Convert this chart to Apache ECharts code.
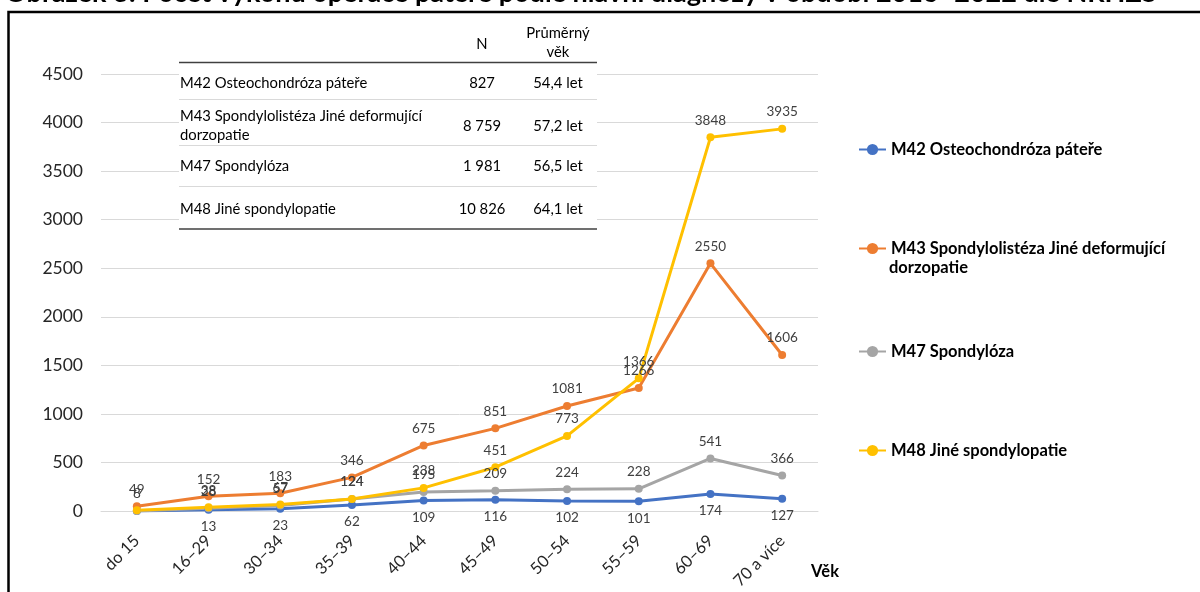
<!DOCTYPE html>
<html>
<head>
<meta charset="utf-8">
<script src="https://cdn.jsdelivr.net/npm/echarts@6/dist/echarts.min.js"></script>
<style>
  html, body { margin: 0; padding: 0; background: #fff; }
  #chart { width: 1200px; height: 592px; }
</style>
</head>
<body>
<div id="chart"></div>
<script>
// Age groups on the x axis
const ageGroups = ['do 15', '16–29', '30–34', '35–39', '40–44', '45–49', '50–54', '55–59', '60–69', '70 a více'];

// Series names (diagnosis groups)
const seriesNames = [
  'M42 Osteochondróza páteře',
  'M43 Spondylolistéza Jiné deformující dorzopatie',
  'M47 Spondylóza',
  'M48 Jiné spondylopatie'
];

// Number of spine surgeries per age group
const m42Values = [0, 13, 23, 62, 109, 116, 102, 101, 174, 127];
const m43Values = [49, 152, 183, 346, 675, 851, 1081, 1266, 2550, 1606];
const m47Values = [0, 28, 57, 124, 195, 209, 224, 228, 541, 366];
const m48Values = [8, 38, 67, 124, 238, 451, 773, 1366, 3848, 3935];

// Summary table: totals and mean age
const tableNames = [
  ['M42 Osteochondróza páteře'],
  ['M43 Spondylolistéza Jiné deformující', 'dorzopatie'],
  ['M47 Spondylóza'],
  ['M48 Jiné spondylopatie']
];
const tableN = ['827', '8 759', '1 981', '10 826'];
const tableAge = ['54,4 let', '57,2 let', '56,5 let', '64,1 let'];
const tableHeader = ['N', 'Průměrný', 'věk'];

// Legend wording (the long M43 name wraps onto a second line)
const legendLines = [
  ['M42 Osteochondróza páteře'],
  ['M43 Spondylolistéza Jiné deformující', 'dorzopatie'],
  ['M47 Spondylóza'],
  ['M48 Jiné spondylopatie']
];

const titleText = 'Obrázek 3: Počet výkonů operace páteře podle hlavní diagnózy v období 2016–2022 dle NRHZS';
const axisNameX = 'Věk';

const colors = ['#4472C4', '#ED7D31', '#A5A5A5', '#FFC000'];
const allValues = [m42Values, m43Values, m47Values, m48Values];
const labelPos = ['bottom', 'top', 'top', 'top'];

const FONT = 'Lato, "Open Sans", sans-serif';
const TXT = '#404040';

const chart = echarts.init(document.getElementById('chart'), null, { renderer: 'canvas' });

// Table layout
const tX0 = 179, tX1 = 597, colN = 482, colAge = 558, nameX = 180;
const rowY = [83, 126, 166.5, 209];
const sepY = [99.5, 145.5, 186.5];
const graphic = [];

// frame around the figure
graphic.push({
  type: 'rect', z: 10, silent: true,
  shape: { x: 8.5, y: 12, width: 1400, height: 800 },
  style: { fill: null, stroke: '#000', lineWidth: 2.5 }
});
// figure caption, partly cut by the top edge
graphic.push({
  type: 'text', z: 10, silent: true,
  style: { text: titleText, x: 5, y: 7, font: 'bold 27px ' + FONT, fill: '#000', textAlign: 'left', textVerticalAlign: 'bottom' }
});
// white panel behind the table
graphic.push({
  type: 'rect', z: 5, silent: true,
  shape: { x: tX0, y: 20, width: tX1 - tX0, height: 212 },
  style: { fill: '#fff' }
});
graphic.push({ type: 'line', z: 6, silent: true, shape: { x1: tX0, y1: 62.5, x2: tX1, y2: 62.5 }, style: { stroke: '#404040', lineWidth: 1.5 } });
graphic.push({ type: 'line', z: 6, silent: true, shape: { x1: tX0, y1: 229, x2: tX1, y2: 229 }, style: { stroke: '#404040', lineWidth: 1.5 } });
sepY.forEach(y => graphic.push({ type: 'line', z: 6, silent: true, shape: { x1: tX0, y1: y, x2: tX1, y2: y }, style: { stroke: '#d9d9d9', lineWidth: 1.2 } }));

const cellFont = '14.8px ' + FONT;
graphic.push({ type: 'text', z: 6, silent: true, style: { text: tableHeader[0], x: colN, y: 44, font: cellFont, fill: '#000', textAlign: 'center', textVerticalAlign: 'middle' } });
graphic.push({ type: 'text', z: 6, silent: true, style: { text: tableHeader[1], x: colAge, y: 33.5, font: cellFont, fill: '#000', textAlign: 'center', textVerticalAlign: 'middle' } });
graphic.push({ type: 'text', z: 6, silent: true, style: { text: tableHeader[2], x: colAge, y: 52, font: cellFont, fill: '#000', textAlign: 'center', textVerticalAlign: 'middle' } });
tableNames.forEach((lines, i) => {
  const lh = 19;
  const y0 = rowY[i] - (lines.length - 1) * lh / 2;
  lines.forEach((t, k) => graphic.push({
    type: 'text', z: 6, silent: true,
    style: { text: t, x: nameX, y: y0 + k * lh, font: cellFont, fill: '#000', textAlign: 'left', textVerticalAlign: 'middle' }
  }));
  graphic.push({ type: 'text', z: 6, silent: true, style: { text: tableN[i], x: colN, y: rowY[i], font: cellFont, fill: '#000', textAlign: 'center', textVerticalAlign: 'middle' } });
  graphic.push({ type: 'text', z: 6, silent: true, style: { text: tableAge[i], x: colAge, y: rowY[i], font: cellFont, fill: '#000', textAlign: 'center', textVerticalAlign: 'middle' } });
});
// x axis title
graphic.push({
  type: 'text', z: 6, silent: true,
  style: { text: axisNameX, x: 811, y: 572, font: 'bold 16.5px ' + FONT, fill: '#000', textAlign: 'left', textVerticalAlign: 'middle' }
});

// Legend: one block per series, the wrapped line of M43 continues under the first
const legendCenters = [148, 247, 350, 449];
const legendFont = 16.5;
const legendTextX = 889;
legendLines.forEach((lines, i) => {
  lines.slice(1).forEach((t, k) => graphic.push({
    type: 'text', z: 6, silent: true,
    style: { text: t, x: legendTextX, y: legendCenters[i] + 21 * (k + 1), font: 'bold ' + legendFont + 'px ' + FONT, fill: '#000', textAlign: 'left', textVerticalAlign: 'middle' }
  }));
});
const legends = seriesNames.map((name, i) => ({
  data: [name],
  orient: 'vertical',
  left: 853,
  top: legendCenters[i] - 12,
  itemWidth: 27,
  itemHeight: 14,
  itemGap: 4,
  selectedMode: false,
  formatter: () => legendLines[i][0],
  textStyle: { fontFamily: FONT, fontWeight: 'bold', fontSize: legendFont, color: '#000' }
}));

const series = allValues.map((vals, i) => ({
  name: seriesNames[i],
  type: 'line',
  data: vals,
  symbol: 'circle',
  symbolSize: 8,
  z: 2,
  color: colors[i],
  lineStyle: { width: 3, color: colors[i] },
  itemStyle: { color: colors[i] },
  label: {
    show: true,
    position: labelPos[i],
    distance: 6,
    fontFamily: FONT,
    fontSize: 13.5,
    color: TXT,
    formatter: p => (p.value === 0 ? '' : String(p.value))
  },
  emphasis: { disabled: true },
  animation: false
}));

chart.setOption({
  backgroundColor: '#fff',
  animation: false,
  textStyle: { fontFamily: FONT },
  grid: { left: 101, right: 382, top: 74, bottom: 81, containLabel: false },
  legend: legends,
  xAxis: {
    type: 'category',
    data: ageGroups,
    boundaryGap: true,
    axisLine: { show: true, lineStyle: { color: '#d9d9d9', width: 1 } },
    axisTick: { show: false },
    axisLabel: { rotate: 45, margin: 27, fontSize: 16.5, color: '#262626', fontFamily: FONT, interval: 0 }
  },
  yAxis: {
    type: 'value',
    min: 0,
    max: 4500,
    interval: 500,
    axisLine: { show: false },
    axisTick: { show: false },
    axisLabel: { fontSize: 17.5, color: '#262626', fontFamily: FONT, margin: 18, formatter: v => String(v) },
    splitLine: { lineStyle: { color: '#d9d9d9', width: 1 } }
  },
  graphic: graphic,
  series: series
});
</script>
</body>
</html>
